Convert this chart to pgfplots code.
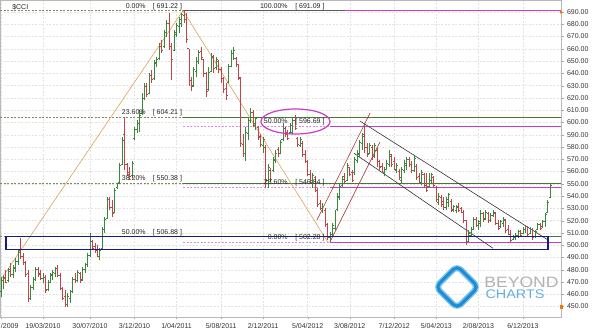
\documentclass[border=0pt]{standalone}
\usepackage{pgfplots}
\pgfplotsset{compat=1.18}
\usepackage{pgfplotstable}
\usepackage{fontspec}
\setmainfont{Liberation Sans}
\definecolor{upc}{RGB}{60,135,60}
\definecolor{dnc}{RGB}{190,70,70}
\definecolor{fibg}{RGB}{120,140,100}
\definecolor{lvlg}{RGB}{70,120,50}
\definecolor{mag}{RGB}{200,60,200}
\definecolor{pinkd}{RGB}{225,140,225}
\definecolor{navyb}{RGB}{20,30,130}
\definecolor{orl}{RGB}{225,160,90}
\definecolor{chred}{RGB}{180,60,60}
\definecolor{logob}{RGB}{30,140,210}
\definecolor{logol}{RGB}{120,195,235}
\tikzset{fib/.style={font=\fontsize{7}{8}\selectfont, text=black!85, inner sep=0pt}}
\pgfplotsset{ohlc/.style={only marks, mark=*, mark size=0pt, mark options={draw=none, fill=none}}}

\pgfplotstableread{
w o h l c
-17 462 474 458 472
-16 471 476 464 474
-15 473 480 469 470
-14 471 481.5 470 480
-13 479 485.5 474 476
-12 476 484 473 482
-11 481 489.5 478 487
-10 487 496 484 494
-9 496 506 489 491
-8 491 494 484 486
-7 486 487 474 476
-6 477 480 454 457
-5 457 467.5 455 466
-4 466 474 463.5 472
-3 472 482 471 480
-2 480 482 474 476
-1 477 480 472 473
0 473 477.5 469.5 475
1 474 476 461 463
2 464 471.5 463 470
3 470 477.5 469 476
4 475 480 471.5 478
5 477 482 474 481
6 481 484 474 475
7 475 477.5 463.5 465
8 465 466 455 457
9 458 463.5 450 452
10 452 461 450 458
11 457 463.5 453 462
12 462 474 461 472
13 472 477.5 469.5 471
14 471 480 470 478
15 477 478 469.5 471
16 472 482 471 480
17 480 485.5 477.5 484
18 484 494 482 492
19 492 510 490 506
20 503 504 496 497
21 499 501.5 494 495
22 496 500 490 491
23 491 498 488 496
24 497 515 496 513
25 513 523 510 521
26 522 539 521 537
27 537 539 528.5 531
28 531 537 523 526
29 527 547 526 545
30 547 551 546 550
31 551 567 550 565
32 566 588 565 585
33 590 604.5 561 566
34 566 567 556 558
35 559 564 553 556
36 557 569 555 567
37 587 596 585.7 594
38 594 602 591.5 600
39 599 610 592 606
40 607 624 606 621
41 620 632 618 629
42 629 632 620.5 623
43 624 640 623 638
44 638 643 632 635
45 636 651 635 649
46 648 653 645 651
47 652 665 651 662
48 662 667 656.5 659
49 662 675 661 673
50 673 683.5 670 681
51 681 689 659 662
52 662 665 634.6 651
53 659 675 658 673
54 672 681 670 679
55 678 686 673 684
56 681 689 678 688
57 687 691.22 681 684
58 684 689 665 668
59 660 660 630 635
60 634 637 626 629
61 630 645 629 643
62 642 653 637 650
63 650 659 648 657
64 658 661.5 651 653
65 651 652 637 640
66 640 641 620.5 625
67 627 645 626 641
68 642 656.5 641 654
69 653 655 640 644
70 645 653 643 651
71 650 651 640 643
72 643 645 632 636
73 636 637 624 627
74 628 632 618 622
75 633 648 632 646
76 646 659 645 656
77 656 661.5 651 659
78 652 653 645 647
79 647 648 634.6 637
80 636 637 580 583
81 582 591 572 575
82 575 596 569 592
83 591 604.5 585.7 602
84 602 612 599.6 608
85 608 610 596 599
86 598 604.5 593.9 603
87 596 597 585.7 588
88 589 591 580 582
89 581 588 575 586
90 580 582 547 553
91 553 566 547 563
92 561 563 551.5 554
93 561 572 560 570
94 569 577.6 567 575
95 578 580 572 574
96 575 585.7 574 584
97 586 599.6 585 597
98 595 596 588 590
99 592 593.9 585.7 587
100 592 599.6 591 598
101 592 604.5 591 602
102 602 606 594 595
103 587 588 580 582
104 581 588 580 586
105 583 585 572 574
106 574 577.6 567 568
107 568 569.4 556 558
108 558 561 550.7 553
109 551 559 547 557
110 555 556 543 545
111 545 547 531 533
112 534 536.8 528.7 530
113 530 534 526 532
114 528 530 515 517
115 517 518 504.3 506
116 506 511 502.28 509
117 509 518 507 516
118 514 528.7 512 526
119 529 542.5 528 540
120 539 550.7 537 548
121 549 556 547.6 554
122 556 559 550.7 552
123 553 567 552 565
124 563 564 556 558
125 559 561 551.5 553
126 559 572 557 570
127 569 577.6 567 575
128 574 585.7 572 584
129 583 591.5 577.6 589
130 590 598 575 580
131 580 583 572 574
132 575 583 574 581
133 580 582 569.4 572
134 572 583 571 581
135 577 579 564 566
136 568 569.4 561 563
137 564 567 559 560
138 559 564 556 562
139 562 569.4 561 567
140 566 577.6 564 574
141 572 574 564 566
142 568 572 561 562
143 561 567 559 565
144 560 562 553 555
145 553 564 551 562
146 561 569.4 559 567
147 565 572 561 570
148 570 572 564 566
149 566 569 559 561
150 561 573.5 560 571
151 564 566 553 555
152 556 559 550.7 552
153 551 561 549 559
154 558 559 547 549
155 549 559 543 545
156 548 559 547 557
157 553 559 550.7 558
158 555 556 547.6 549
159 547 548 535 537
160 535 542.5 533 540
161 539 541 531 533
162 536 539 529 531
163 531 539 529 537
164 535 542.5 531 541
165 536 538 527 529
166 528 533 527 532
167 528 533 526 531
168 532 534 527 528
169 530 531 526 527
170 527 528.7 518 520
171 520 520.5 500.2 502
172 503 512.4 502.5 510
173 508 515 507 513
174 513 523 512 521
175 521 523 515 517
176 516 520.5 512.4 519
177 518 528.7 515 526
178 526 527 519 521
179 522 528.7 520.5 527
180 526 527 518 520
181 520 526 519 524
182 524 528.7 523 527
183 526 527 516.5 518
184 518 520.5 512.4 514
185 515 520.5 514 519
186 518 523 515 521
187 520 521 510 512
188 513 516.5 508 509
189 509 512.4 502.6 504
190 505 508 504 507
191 506 510 504.3 508
192 508 512.4 506 511
193 511 512.4 507 508
194 510 515 509 514
195 513 516.5 510 515
196 515 516 507 509
197 510 515 509 513
198 513 514 504.3 506
199 507 512.4 506 511
200 513 518 512 517
201 517 518 512.4 514
202 515 520.5 514 519
203 519 526 515 525
204 527 536.8 526 535
205 539 550.7 538.5 549
}\bars

\begin{document}
\begin{tikzpicture}[font=\fontsize{7}{8.4}\selectfont]
\begin{axis}[
  scale only axis, width=561pt, height=317pt,
  xmin=-17.38, xmax=209.4, ymin=441.5, ymax=699.8,
  clip=false,
  axis line style={draw=gray!55},
  xtick={-17,0,19,37,54,72,89,107,124,142,159,176,194},
  xticklabels={\rlap{/2009},19/03/2010,30/07/2010,3/12/2010,1/04/2011,5/08/2011,2/12/2011,5/04/2012,3/08/2012,7/12/2012,5/04/2013,2/08/2013,6/12/2013},
  ytick={450,460,...,690},
  yticklabel pos=right, ytick pos=right, xtick pos=left,
  tick align=outside, major tick length=2.5pt,
  tick style={gray!70},
  grid=major, major grid style={gray!22, dash pattern=on 2pt off 1.5pt},
  /pgf/number format/assume math mode=true,
  y tick label style={/pgf/number format/.cd, fixed, fixed zerofill, precision=2, 1000 sep={}},
  tick label style={font=\fontsize{7}{8}\selectfont, text=black!80},
]
% Fibonacci A (dashed)
\addplot[fibg, line width=0.6pt, dash pattern=on 2pt off 1.5pt] coordinates {(-17.38,691.22) (56.6,691.22)};
\addplot[fibg, line width=0.6pt, dash pattern=on 2pt off 1.5pt] coordinates {(-17.38,604.21) (56.6,604.21)};
\addplot[fibg, line width=0.6pt, dash pattern=on 2pt off 1.5pt] coordinates {(-17.38,550.38) (56.6,550.38)};
\addplot[fibg, line width=0.6pt, dash pattern=on 2pt off 1.5pt] coordinates {(-17.38,506.88) (56.6,506.88)};
% Fibonacci B (dashed pink)
\addplot[pinkd, line width=0.6pt, dash pattern=on 2pt off 1.5pt] coordinates {(56.6,596.69) (116,596.69)};
\addplot[pinkd, line width=0.6pt, dash pattern=on 2pt off 1.5pt] coordinates {(56.6,546.84) (116,546.84)};
\addplot[pinkd, line width=0.6pt, dash pattern=on 2pt off 1.5pt] coordinates {(56.6,502.28) (116,502.28)};
% level lines
\addplot[lvlg, line width=0.7pt] coordinates {(56.6,604.21) (209.4,604.21)};
\addplot[lvlg, line width=0.7pt] coordinates {(56.6,550.38) (209.4,550.38)};
\addplot[lvlg, line width=0.7pt] coordinates {(56.6,506.88) (209.4,506.88)};
\addplot[gray!70!black, line width=0.6pt] coordinates {(56.6,691.09) (122,691.09)};
\addplot[mag, line width=0.7pt] coordinates {(122,691.09) (209.4,691.09)};
\addplot[mag, line width=0.7pt] coordinates {(116,596.69) (209.4,596.69)};
\addplot[mag, line width=0.7pt] coordinates {(116,546.84) (209.4,546.84)};
\addplot[mag, line width=0.7pt] coordinates {(116,502.28) (209.4,502.28)};
% orange fib trend lines
\addplot[orl, line width=0.6pt] coordinates {(-17.38,470.9) (56.6,691.22)};
\addplot[orl, line width=0.6pt] coordinates {(56.6,691.09) (115.2,502.28)};
% red rising channel
\addplot[chred, line width=0.6pt] coordinates {(110.75,520.55) (132.2,607.7)};
\addplot[chred, line width=0.6pt] coordinates {(116.0,502.6) (136.2,584.1)};
% black falling channel
\addplot[black!80, line width=0.6pt] coordinates {(128.1,601.2) (204.1,504.3)};
\addplot[black!80, line width=0.6pt] coordinates {(125.7,574.9) (181.9,497.5)};

% OHLC bars - up
\addplot[ohlc, restrict expr to domain={\thisrow{c}-\thisrow{o}}{0:1000},
  error bars/.cd, y dir=plus, y explicit, error mark=none, error bar style={draw=upc, line width=0.8pt}]
  table[x=w, y=l, y error expr=\thisrow{h}-\thisrow{l}] {\bars};
\addplot[ohlc, restrict expr to domain={\thisrow{c}-\thisrow{o}}{0:1000},
  error bars/.cd, x dir=minus, x fixed=0.6, error mark=none, error bar style={draw=upc, line width=0.8pt}]
  table[x=w, y=o] {\bars};
\addplot[ohlc, restrict expr to domain={\thisrow{c}-\thisrow{o}}{0:1000},
  error bars/.cd, x dir=plus, x fixed=0.6, error mark=none, error bar style={draw=upc, line width=0.8pt}]
  table[x=w, y=c] {\bars};
% OHLC bars - down
\addplot[ohlc, restrict expr to domain={\thisrow{c}-\thisrow{o}}{-1000:-0.01},
  error bars/.cd, y dir=plus, y explicit, error mark=none, error bar style={draw=dnc, line width=0.8pt}]
  table[x=w, y=l, y error expr=\thisrow{h}-\thisrow{l}] {\bars};
\addplot[ohlc, restrict expr to domain={\thisrow{c}-\thisrow{o}}{-1000:-0.01},
  error bars/.cd, x dir=minus, x fixed=0.6, error mark=none, error bar style={draw=dnc, line width=0.8pt}]
  table[x=w, y=o] {\bars};
\addplot[ohlc, restrict expr to domain={\thisrow{c}-\thisrow{o}}{-1000:-0.01},
  error bars/.cd, x dir=plus, x fixed=0.6, error mark=none, error bar style={draw=dnc, line width=0.8pt}]
  table[x=w, y=c] {\bars};

% right-edge markers
\addplot[only marks, mark=diamond*, mark size=1.6pt, color=orange!90!red] coordinates {(209.4,690)};
\addplot[only marks, mark=square*, mark size=1.2pt, color=orange!90!red] coordinates {(209.4,450)};

% rectangle and ellipse
\draw[navyb, line width=1.3pt] (axis cs:-15,496.7) rectangle (axis cs:204.1,507);
\draw[mag, line width=1.2pt] (axis cs:102.06,600.8) ellipse [x radius=34.5pt, y radius=12.5pt];

% labels
\node[fib, anchor=base west] at (axis cs:-12.5,692.3) {\$CCI};
\node[fib, anchor=base east] at (axis cs:41.6,693.2) {0.00\%};
\node[fib, anchor=base west] at (axis cs:44.3,693.2) {[ 691.22 ]};
\node[fib, anchor=base east] at (axis cs:41.6,606.2) {23.60\%};
\node[fib, anchor=base west] at (axis cs:44.3,606.2) {[ 604.21 ]};
\node[fib, anchor=base east] at (axis cs:41.6,552.4) {38.20\%};
\node[fib, anchor=base west] at (axis cs:44.3,552.4) {[ 550.38 ]};
\node[fib, anchor=base east] at (axis cs:41.6,508.9) {50.00\%};
\node[fib, anchor=base west] at (axis cs:44.3,508.9) {[ 506.88 ]};
\node[fib, anchor=base east] at (axis cs:99.0,693.1) {100.00\%};
\node[fib, anchor=base west] at (axis cs:101.9,693.1) {[ 691.09 ]};
\node[fib, anchor=base east] at (axis cs:99.0,598.9) {50.00\%};
\node[fib, anchor=base west] at (axis cs:101.9,598.9) {[ 596.69 ]};
\node[fib, anchor=base east] at (axis cs:99.0,549.6) {23.60\%};
\node[fib, anchor=base west] at (axis cs:101.9,549.6) {[ 546.84 ]};
\node[fib, anchor=base east] at (axis cs:99.0,505.0) {0.00\%};
\node[fib, anchor=base west] at (axis cs:101.9,505.0) {[ 502.28 ]};
\end{axis}

% BEYOND CHARTS logo
\begin{scope}[shift={(457pt,30pt)}, rotate=45]
  \draw[line width=6pt, draw=logol, rounded corners=6pt] (-15pt,-15pt) rectangle (15pt,15pt);
  \draw[line width=3pt, draw=logob, rounded corners=5pt] (-15pt,-15pt) rectangle (15pt,15pt);
\end{scope}
\begin{scope}[shift={(521.5pt,35pt)}]
  \node[xscale=1.17, transform shape, inner sep=0pt, text=gray!60, font=\fontsize{15}{15}\selectfont] at (0,0) {BEYOND};
\end{scope}
\begin{scope}[shift={(515pt,22.5pt)}]
  \node[xscale=1.15, transform shape, inner sep=0pt, text=logob!70, font=\fontsize{12.5}{12.5}\selectfont] at (0,0) {CHARTS};
\end{scope}

\pgfresetboundingbox
\path (0pt,-17pt) rectangle (600pt,317pt);
\end{tikzpicture}
\end{document}
